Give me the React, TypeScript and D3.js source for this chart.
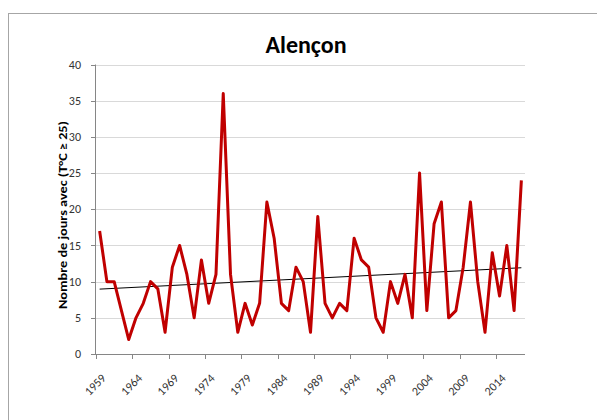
import React from "react";
import * as d3 from "d3";

const years: number[] = d3.range(1959, 2018);
const values: number[] = [
  17, 10, 10, 6, 2, 5, 7, 10, 9, 3,
  12, 15, 11, 5, 13, 7, 11, 36, 11, 3,
  7, 4, 7, 21, 16, 7, 6, 12, 10, 3,
  19, 7, 5, 7, 6, 16, 13, 12, 5, 3,
  10, 7, 11, 5, 25, 6, 18, 21, 5, 6,
  12, 21, 10, 3, 14, 8, 15, 6, 24,
];
const yTicks: number[] = [0, 5, 10, 15, 20, 25, 30, 35, 40];
const xTickLabels: number[] = [1959, 1964, 1969, 1974, 1979, 1984, 1989, 1994, 1999, 2004, 2009, 2014];
const title = "Alençon";
const yTitle = "Nombre de jours avec (T°C ≥ 25)";

export default function App() {
  const W = 597, H = 420;
  const left = 96, right = 525, top = 64.5, bottom = 354;
  const x = d3.scaleBand<number>().domain(years).range([left, right]);
  const cx = (yr: number) => (x(yr) as number) + x.bandwidth() / 2;
  const y = d3.scaleLinear().domain([0, 40]).range([bottom, top]);

  const line = d3.line<number>().x((_, i) => cx(years[i])).y((v) => y(v));

  // linear trend (least squares)
  const n = values.length;
  const idx = d3.range(n);
  const mx = d3.mean(idx) as number;
  const my = d3.mean(values) as number;
  const slope =
    d3.sum(idx, (i) => (i - mx) * (values[i] - my)) / d3.sum(idx, (i) => (i - mx) * (i - mx));
  const icpt = my - slope * mx;

  const font = "Calibri, Carlito, 'Open Sans', sans-serif";

  return (
    <svg width={W} height={H} style={{ position: "absolute", left: 0, top: 0, background: "#fff" }}>
      <rect x={8.5} y={13.5} width={W} height={H} fill="#fff" stroke="#a6a6a6" strokeWidth={1} />
      <text x={306} y={53} textAnchor="middle" fontFamily={font} fontWeight="bold" fontSize={24} fill="#000">
        {title}
      </text>
      {/* gridlines */}
      {yTicks.map((t) => (
        <line key={t} x1={left} x2={right} y1={Math.round(y(t)) + 0.5} y2={Math.round(y(t)) + 0.5} stroke="#d9d9d9" strokeWidth={1} />
      ))}
      {/* y axis */}
      <line x1={left - 0.5} x2={left - 0.5} y1={top} y2={bottom + 0.5} stroke="#868686" />
      {yTicks.map((t) => (
        <g key={"yt" + t}>
          <line x1={left - 5} x2={left} y1={Math.round(y(t)) + 0.5} y2={Math.round(y(t)) + 0.5} stroke="#868686" />
          <text x={81} y={y(t)} dy="0.35em" textAnchor="end" fontFamily={font} fontSize={12} fill="#333">
            {t}
          </text>
        </g>
      ))}
      {/* x axis */}
      <line x1={left} x2={right} y1={Math.round(bottom) + 0.5} y2={Math.round(bottom) + 0.5} stroke="#868686" />
      {xTickLabels.map((yr) => {
        const tx = Math.round(x(yr) as number) + 0.5;
        return (
          <g key={"xt" + yr}>
            <line x1={tx} x2={tx} y1={bottom} y2={bottom + 5} stroke="#868686" />
            <text
              transform={`translate(${cx(yr) + 1},${bottom + 19}) rotate(-45)`}
              textAnchor="end"
              dy="0.7em"
              fontFamily={font}
              fontSize={12}
              fill="#333"
            >
              {yr}
            </text>
          </g>
        );
      })}
      {/* trend */}
      <line
        x1={cx(years[0])}
        x2={cx(years[n - 1])}
        y1={y(icpt)}
        y2={y(icpt + slope * (n - 1))}
        stroke="#000"
        strokeWidth={1}
      />
      {/* series */}
      <path d={line(values) as string} fill="none" stroke="#c00000" strokeWidth={3} strokeLinejoin="round" />
      <text
        transform={`translate(67,215) rotate(-90)`}
        textAnchor="middle"
        fontFamily={font}
        fontWeight="bold"
        fontSize={12}
        textLength={188}
        lengthAdjust="spacingAndGlyphs"
        fill="#000"
      >
        {yTitle}
      </text>
    </svg>
  );
}
